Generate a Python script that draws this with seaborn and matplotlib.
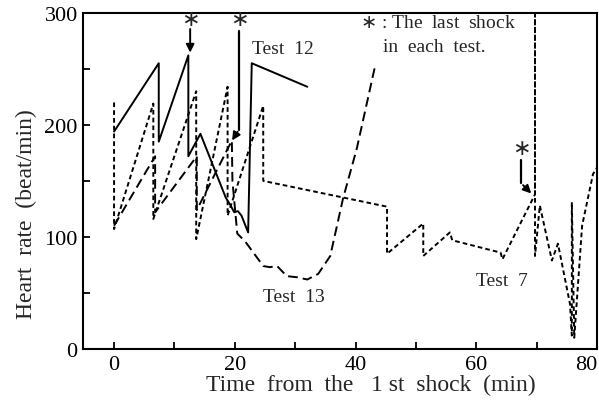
import pandas as pd
import matplotlib
matplotlib.use('Agg')
import matplotlib.pyplot as plt
import seaborn as sns

# Test 12 (solid line)
t12_time = [0, 7.4, 7.4, 12.3, 12.3, 14.3, 18.5, 19.3, 19.9, 20.5, 21.1, 22.2, 22.8, 32.0]
t12_hr = [194, 255, 185, 262, 172, 192, 135, 128, 122, 123, 119, 104, 255, 234]

# Test 13 (long dashes)
t13_time = [0, 6.8, 6.8, 13.7, 13.7, 19.5, 19.6, 20.4, 21.7, 24.7, 25.8, 27.0, 28.6,
            30.3, 32.0, 33.8, 35.8, 37.9, 40.2, 43.2]
t13_hr = [110, 172, 122, 172, 124, 186, 150, 103, 96, 74, 73, 74, 65,
          64, 62, 67, 83, 134, 179, 252]

# Test 7 (short dashes)
t7_time = [0, 0, 6.5, 6.5, 13.6, 13.6, 18.8, 18.8, 24.7, 24.7, 45.2, 45.2, 51.2, 51.2,
           55.6, 56.0, 64.0, 64.3, 69.7, 69.7, 69.7, 70.5, 72.5, 73.5, 75.5, 75.8, 75.8,
           76.2, 77.5, 79.3, 80.0]
t7_hr = [220, 107, 219, 116, 230, 98, 234, 119, 217, 150, 127, 85, 112, 83,
         104, 97, 86, 80, 138, 302, 83, 128, 79, 94, 40, 12, 131,
         10, 110, 156, 162]

df = pd.concat([
    pd.DataFrame({'time': t12_time, 'hr': t12_hr, 'test': 'Test 12'}),
    pd.DataFrame({'time': t13_time, 'hr': t13_hr, 'test': 'Test 13'}),
    pd.DataFrame({'time': t7_time, 'hr': t7_hr, 'test': 'Test 7'}),
], ignore_index=True)

sns.set_style('ticks')
plt.rcParams['font.family'] = ['Liberation Serif', 'DejaVu Serif']

fig = plt.figure(figsize=(5.99, 4.06), dpi=100)
ax = fig.add_axes([0.139, 0.138, 0.858, 0.828])

sns.lineplot(data=df, x='time', y='hr', style='test',
             dashes={'Test 12': '', 'Test 13': (5, 2.6), 'Test 7': (2.4, 1.6)},
             color='black', sort=False, estimator=None, legend=False,
             linewidth=1.4, ax=ax)

ax.set_xlim(-5.1, 80)
ax.set_ylim(0, 300)
ax.set_xticks([0, 20, 40, 60, 80])
ax.set_xticks([10, 30, 50, 70], minor=True)
ax.set_yticks([0, 100, 200, 300])
ax.set_yticks([50, 150, 250], minor=True)
ax.tick_params(which='both', direction='in', length=5, width=1.3, labelsize=16,
               colors='black', pad=4)
ax.get_xticklabels()[-1].set_horizontalalignment('right')
for s in ax.spines.values():
    s.set_visible(True)
    s.set_linewidth(1.5)
    s.set_color('black')

ax.set_xlabel('Time  from  the   1 st  shock  (min)', fontsize=17, labelpad=0)
ax.set_ylabel('Heart  rate  (beat/min)', fontsize=17, labelpad=5)
ax.xaxis.set_label_coords(0.56, -0.075)
ax.yaxis.set_label_coords(-0.09, 0.405)

ax.text(22.8, 268, 'Test  12', fontsize=14, va='center')
ax.text(24.7, 47, 'Test  13', fontsize=14, va='center')
ax.text(60.0, 61, 'Test  7', fontsize=14, va='center')
ax.text(40.7, 291, '$\\ast$ : The  last  shock', fontsize=14, va='center')
ax.text(44.5, 270, 'in  each  test.', fontsize=14, va='center')

# last-shock markers
ax.text(12.6, 293, '$\\ast$', fontsize=16, ha='center', va='center')
ax.annotate('', xy=(12.6, 262), xytext=(12.6, 288),
            arrowprops=dict(arrowstyle='-|>', color='black', lw=1.4, mutation_scale=12))
ax.text(20.7, 293, '$\\ast$', fontsize=16, ha='center', va='center')
ax.plot([20.7, 20.7], [284, 195], color='black', lw=1.6)
ax.annotate('', xy=(19.3, 184), xytext=(20.7, 196),
            arrowprops=dict(arrowstyle='-|>', color='black', lw=1.4, mutation_scale=12))
ax.text(67.4, 178, '$\\ast$', fontsize=16, ha='center', va='center')
ax.plot([67.4, 67.4], [169, 148], color='black', lw=1.6)
ax.annotate('', xy=(69.4, 137), xytext=(67.4, 148),
            arrowprops=dict(arrowstyle='-|>', color='black', lw=1.4, mutation_scale=12))

fig.savefig('out.png', dpi=100)
